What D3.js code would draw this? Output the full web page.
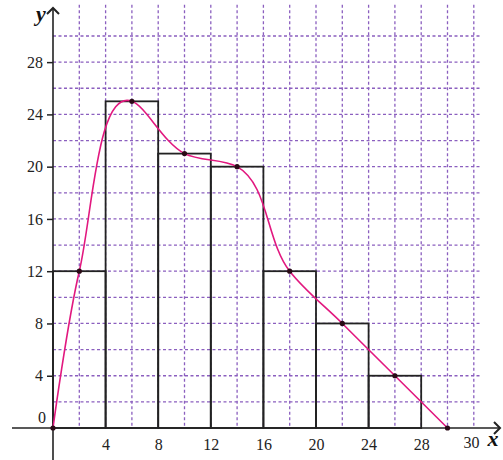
<!DOCTYPE html>
<html>
<head>
<meta charset="utf-8">
<script src="https://cdn.jsdelivr.net/npm/d3@7"></script>
<style>
  html, body { margin: 0; padding: 0; background: #fff; }
  svg { display: block; }
</style>
</head>
<body>
<script>
// ---- data ----
const binStarts = [0, 4, 8, 12, 16, 20, 24];
const binWidth = 4;
const frequencies = [12, 25, 21, 20, 12, 8, 4];
const polyX = [0, 2, 6, 10, 14, 18, 22, 26, 30];
const polyY = [0, 12, 25, 21, 20, 12, 8, 4, 0];
const xTickLabels = [4, 8, 12, 16, 20, 24, 28];
const yTickLabels = [4, 8, 12, 16, 20, 24, 28];

const W = 503, H = 460;
const FONT = "'Liberation Serif', 'Times New Roman', serif";
const svg = d3.select("body").append("svg").attr("width", W).attr("height", H);

const x = d3.scaleLinear().domain([0, 30]).range([53, 447.5]);
const y = d3.scaleLinear().domain([0, 30]).range([428, 36]);

const gridColor = "#8b5fbf";

// ---- grid ----
const vGrid = d3.range(2, 33, 2);
svg.append("g").selectAll("line").data(vGrid).join("line")
  .attr("x1", d => x(d)).attr("x2", d => x(d))
  .attr("y1", y(32.4)).attr("y2", y(0))
  .attr("stroke", gridColor).attr("stroke-width", 1.3)
  .attr("stroke-dasharray", "3,2.5");
const hGrid = d3.range(2, 31, 2);
svg.append("g").selectAll("line").data(hGrid).join("line")
  .attr("x1", x(0)).attr("x2", x(32.6))
  .attr("y1", d => y(d)).attr("y2", d => y(d))
  .attr("stroke", gridColor).attr("stroke-width", 1.3)
  .attr("stroke-dasharray", "3,2.5");

// ---- bars ----
const bars = binStarts.map((s, i) => ({ s, f: frequencies[i] }));
svg.append("g").selectAll("rect").data(bars).join("rect")
  .attr("x", d => x(d.s)).attr("width", d => x(d.s + binWidth) - x(d.s))
  .attr("y", d => y(d.f)).attr("height", d => y(0) - y(d.f))
  .attr("fill", "none").attr("stroke", "#222").attr("stroke-width", 1.8);

// ---- axes lines ----
svg.append("line").attr("x1", 12).attr("x2", 500).attr("y1", y(0)).attr("y2", y(0))
  .attr("stroke", "#222").attr("stroke-width", 1.6);
svg.append("path").attr("d", `M${494},${y(0) - 6} L${500},${y(0)} L${494},${y(0) + 6}`)
  .attr("fill", "none").attr("stroke", "#222").attr("stroke-width", 2);
svg.append("line").attr("x1", x(0)).attr("x2", x(0)).attr("y1", 8).attr("y2", 460)
  .attr("stroke", "#222").attr("stroke-width", 1.6);
svg.append("path").attr("d", `M${x(0) - 6},${14} L${x(0)},${8} L${x(0) + 6},${14}`)
  .attr("fill", "none").attr("stroke", "#222").attr("stroke-width", 2);

// y axis ticks & labels
const yAxis = d3.axisLeft(y).tickValues(yTickLabels).tickSize(6).tickPadding(4);
const gy = svg.append("g").attr("transform", `translate(${x(0)},0)`).call(yAxis);
gy.select(".domain").remove();
gy.selectAll(".tick line").attr("stroke", "#222").attr("stroke-width", 1.5);
gy.selectAll(".tick text").style("font-size", "16px").style("fill", "#222")
  .style("font-family", FONT);

// x axis labels
const xAxis = d3.axisBottom(x).tickValues(xTickLabels).tickSize(0).tickPadding(11);
const gx = svg.append("g").attr("transform", `translate(0,${y(0)})`).call(xAxis);
gx.select(".domain").remove();
gx.selectAll(".tick text").style("font-size", "16px").style("fill", "#222")
  .style("font-family", FONT);

svg.append("text").attr("x", x(30) + 24).attr("y", 448).attr("text-anchor", "middle")
  .style("font-family", FONT).style("font-size", "16px").style("fill", "#222").text("30");
svg.append("text").attr("x", 46).attr("y", 423).attr("text-anchor", "end")
  .style("font-family", FONT).style("font-size", "16px").style("fill", "#222").text("0");

// axis titles
svg.append("text").attr("x", 493).attr("y", 446).attr("text-anchor", "middle")
  .style("font-family", FONT).style("font-size", "22px").style("font-weight", "bold")
  .style("font-style", "italic").style("fill", "#111").text("x");
svg.append("text").attr("x", 41).attr("y", 21).attr("text-anchor", "middle")
  .style("font-family", FONT).style("font-size", "22px").style("font-weight", "bold")
  .style("font-style", "italic").style("fill", "#111").text("y");

// ---- frequency curve ----
const pts = polyX.map((v, i) => [v, polyY[i]]);
const line = d3.line().x(d => x(d[0])).y(d => y(d[1])).curve(d3.curveCatmullRom.alpha(1));
svg.append("path").attr("d", line(pts)).attr("fill", "none")
  .attr("stroke", "#e2187f").attr("stroke-width", 1.6);
svg.append("g").selectAll("circle").data(pts).join("circle")
  .attr("cx", d => x(d[0])).attr("cy", d => y(d[1])).attr("r", 2.6)
  .attr("fill", "#2a0a16");
</script>
</body>
</html>
